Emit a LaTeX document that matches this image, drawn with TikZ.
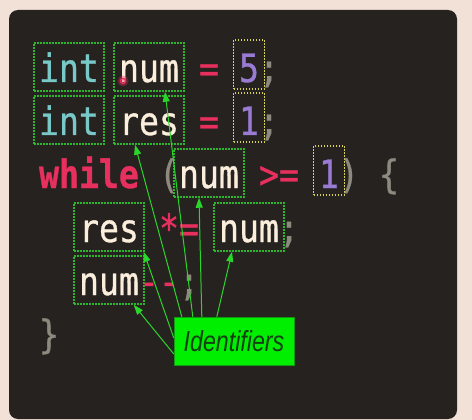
\documentclass[tikz,border=0pt]{standalone}
\usepackage{fontspec}
\usepackage{xcolor}
\usepackage{tikz}
\usetikzlibrary{arrows.meta}
\newfontfamily\codefont[FakeStretch=0.85,FakeBold=0.8]{DejaVu Sans Mono}
\newfontfamily\labelfont[FakeStretch=0.8]{Liberation Sans}
\definecolor{pagebg}{HTML}{F1E1D7}
\definecolor{panel}{HTML}{252220}
\definecolor{typecol}{HTML}{78C8C8}
\definecolor{identcol}{HTML}{FBEEDC}
\definecolor{opcol}{HTML}{E8305E}
\definecolor{numcol}{HTML}{9A7BD4}
\definecolor{punctcol}{HTML}{8E897E}
\definecolor{boxgreen}{HTML}{2DB52D}
\definecolor{boxyellow}{HTML}{D6D05A}
\definecolor{arrowgreen}{HTML}{2BD62B}
\definecolor{labelfill}{HTML}{00EE00}
\definecolor{labeledge}{HTML}{119911}
\definecolor{labeltext}{HTML}{124012}
\tikzset{
  token/.style={font=\codefont\fontsize{39}{44}\selectfont, inner sep=0pt, anchor=base},
  idbox/.style={token, draw=boxgreen, line width=1.5pt, dash pattern=on 1.5pt off 1.5pt, inner xsep=5pt, text height=39pt, text depth=9pt},
  litbox/.style={token, draw=boxyellow, line width=1.5pt, dash pattern=on 1.5pt off 1.5pt, inner xsep=5.5pt, text height=42pt, text depth=7pt, text=numcol},
  idlabel/.style={fill=labelfill, draw=labeledge, minimum width=120pt, minimum height=48pt, inner sep=0pt, font=\labelfont\itshape\fontsize{29}{30}\selectfont, text=labeltext},
  pointer/.style={-{Triangle[length=10pt,width=7pt]}, arrowgreen, line width=1pt},
}
\begin{document}
\begin{tikzpicture}[x=1pt,y=-1pt]
  \useasboundingbox (0,0) rectangle (472,420);
  \fill[pagebg] (0,0) rectangle (472,420);
  \fill[panel, rounded corners=9pt] (9,10) rectangle (457,419);
  % int num = 5;
  \node[idbox, text=typecol] (int1) at (69,82) {int};
  \node[idbox, text=identcol] (num1) at (149,82) {num};
  \node[token, text=opcol] (eq1) at (209,82) {=};
  \node[litbox] (five) at (249,82) {5};
  \node[token, text=punctcol] (semi1) at (269,82) {;};
  % int res = 1;
  \node[idbox, text=typecol] (int2) at (69,135) {int};
  \node[idbox, text=identcol] (res2) at (149,135) {res};
  \node[token, text=opcol] (eq2) at (209,135) {=};
  \node[litbox] (one2) at (249,135) {1};
  \node[token, text=punctcol] (semi2) at (269,135) {;};
  % while (num >= 1) {
  \node[token, text=opcol, font=\codefont\bfseries\fontsize{39}{44}\selectfont] (while) at (89,188) {while};
  \node[token, text=punctcol] (lpar) at (169,188) {(};
  \node[idbox, text=identcol] (num3) at (209,188) {num};
  \node[token, text=opcol] (ge) at (279,188) {>=};
  \node[litbox] (one3) at (329,188) {1};
  \node[token, text=punctcol] (rpar) at (349,188) {)};
  \node[token, text=punctcol] (lbrace) at (389,188) {\{};
  % res *= num;
  \node[idbox, text=identcol] (res4) at (109,242) {res};
  \node[token, text=opcol] (muleq) at (179,242) {*=};
  \node[idbox, text=identcol] (num4) at (249,242) {num};
  \node[token, text=punctcol] (semi4) at (289,242) {;};
  % num--;
  \node[idbox, text=identcol] (num5) at (109,295) {num};
  \node[token, text=opcol] (dec) at (159,295) {-{}-};
  \node[token, text=punctcol] (semi5) at (189,295) {;};
  % }
  \node[token, text=punctcol] (rbrace) at (49,348) {\}};
  % cursor mark
  \fill[opcol, opacity=0.35] (123,81) circle (5.5pt);
  \draw[opcol, line width=1.4pt] (123,81) circle (2.5pt);
  % Label and pointers
  \node[idlabel] (lbl) at (234,341) {Identifiers};
  \draw[pointer] ([xshift=19pt]lbl.north west) -- ([xshift=16pt]num1.south);
  \draw[pointer] ([xshift=8pt]lbl.north west) -- ([xshift=-14pt]res2.south);
  \draw[pointer] ([xshift=28pt]lbl.north west) -- ([xshift=-10pt]num3.south);
  \draw[pointer] ([xshift=43pt]lbl.north west) -- ([xshift=-17pt]num4.south);
  \draw[pointer] ([yshift=3pt]lbl.west) -- ([xshift=-1pt]res4.south east);
  \draw[pointer] ([yshift=-13pt]lbl.west) -- ([xshift=-11pt]num5.south east);
\end{tikzpicture}
\end{document}
